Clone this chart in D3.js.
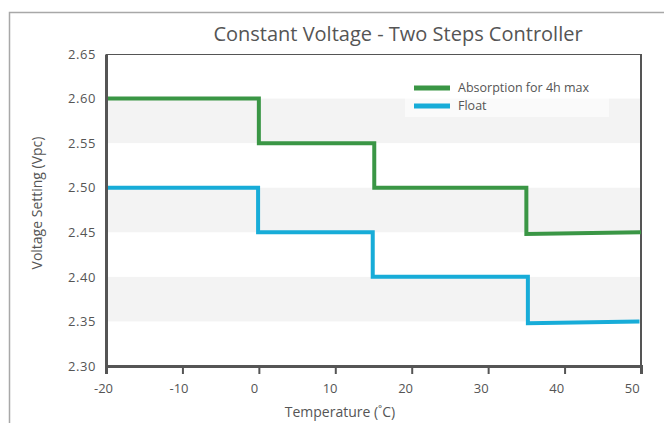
<!DOCTYPE html>
<html><head><meta charset="utf-8">
<script src="https://cdn.jsdelivr.net/npm/d3@7"></script>
<style>body{margin:0;background:#fff}svg{display:block}text{font-family:"Open Sans",sans-serif;fill:#555}</style>
</head><body>
<script>
const title = "Constant Voltage - Two Steps Controller";
const xLabel = "Temperature (˚C)";
const yLabel = "Voltage Setting (Vpc)";
const xTicks = [-20, -10, 0, 10, 20, 30, 40, 50];
const yTicks = [2.30, 2.35, 2.40, 2.45, 2.50, 2.55, 2.60, 2.65];
const seriesNames = ["Absorption for 4h max", "Float"];
const seriesColors = ["#3a9645", "#17acd8"];
const absorptionT = [-20, 0, 0, 15.1, 15.1, 35, 35, 50];
const absorptionV = [2.60, 2.60, 2.55, 2.55, 2.50, 2.50, 2.448, 2.45];
const floatT = [-20, -0.1, -0.1, 14.9, 14.9, 35.2, 35.2, 49.8];
const floatV = [2.50, 2.50, 2.45, 2.45, 2.40, 2.40, 2.348, 2.35];

const W = 664, H = 423;
const m = {l: 106, r: 641, t: 54, b: 366};
const svg = d3.select("body").append("svg").attr("width", W).attr("height", H);

svg.append("rect").attr("x", 9.5).attr("y", 12.5).attr("width", 800).attr("height", 600)
  .attr("fill", "none").attr("stroke", "#a8a8a8").attr("stroke-width", 1.5);

const x = d3.scaleLinear().domain([-20, 50]).range([m.l, m.r]);
const y = d3.scaleLinear().domain([2.30, 2.65]).range([m.b, m.t]);

// alternating bands
const bands = [[2.35, 2.40], [2.45, 2.50], [2.55, 2.60]];
svg.selectAll("rect.band").data(bands).enter().append("rect")
  .attr("x", x(-20)).attr("width", x(50) - x(-20))
  .attr("y", d => y(d[1])).attr("height", d => y(d[0]) - y(d[1]))
  .attr("fill", "#f3f3f3");

// legend background
svg.append("rect").attr("x", 405).attr("y", 76).attr("width", 204).attr("height", 41)
  .attr("fill", "#fff").attr("fill-opacity", 0.6);

// frame lines
svg.append("line").attr("x1", x(-20)).attr("x2", x(50)).attr("y1", m.t + 0.5).attr("y2", m.t + 0.5)
  .attr("stroke", "#555").attr("stroke-width", 1);
svg.append("line").attr("x1", x(50)).attr("x2", x(50)).attr("y1", m.t).attr("y2", m.b)
  .attr("stroke", "#555").attr("stroke-width", 2);

// data
const line = d3.line().x(d => x(d[0])).y(d => y(d[1]));
const series = [d3.zip(absorptionT, absorptionV), d3.zip(floatT, floatV)];
series.forEach((s, i) => {
  svg.append("path").datum(s).attr("d", line).attr("fill", "none")
    .attr("stroke", seriesColors[i]).attr("stroke-width", 4).attr("stroke-linejoin", "miter");
});

// axes
const fmtX = d => String(d);
const xAxis = d3.axisBottom(x).tickValues(xTicks).tickSize(8).tickPadding(7).tickFormat(fmtX);
const gx = svg.append("g").attr("transform", `translate(0,${m.b})`).call(xAxis);
gx.select(".domain").attr("stroke", "#555").attr("stroke-width", 3);
gx.selectAll(".tick line").attr("stroke", "#555").attr("stroke-width", 2)
  .attr("display", d => (d === -20 || d === 50) ? "none" : null);
gx.selectAll(".tick text").attr("font-size", 13).attr("fill", "#555").attr("dy", "0.95em")
  .attr("dx", d => -3 - 0.09 * (d + 20))
  .style("font-family", "'Open Sans',sans-serif");

const yAxis = d3.axisLeft(y).tickValues(yTicks).tickSize(0).tickPadding(10).tickFormat(d3.format(".2f"));
const gy = svg.append("g").attr("transform", `translate(${m.l},0)`).call(yAxis);
gy.select(".domain").attr("stroke", "#555").attr("stroke-width", 3);
gy.selectAll(".tick text").attr("font-size", 13).attr("fill", "#555").attr("letter-spacing", 0.6)
  .style("font-family", "'Open Sans',sans-serif");

// titles
svg.append("text").attr("x", 398).attr("y", 41).attr("text-anchor", "middle")
  .attr("font-size", 20).text(title);
svg.append("text").attr("x", 340).attr("y", 417).attr("text-anchor", "middle")
  .attr("font-size", 14).text(xLabel);
svg.append("text").attr("transform", "translate(42,203) rotate(-90)").attr("text-anchor", "middle")
  .attr("font-size", 14).text(yLabel);

// legend
seriesNames.forEach((n, i) => {
  const ly = 88 + i * 18;
  svg.append("line").attr("x1", 414).attr("x2", 450).attr("y1", ly).attr("y2", ly)
    .attr("stroke", seriesColors[i]).attr("stroke-width", 5);
  svg.append("text").attr("x", 458).attr("y", ly).attr("dy", "0.35em")
    .attr("font-size", 12.5).text(n);
});
</script>
</body></html>
